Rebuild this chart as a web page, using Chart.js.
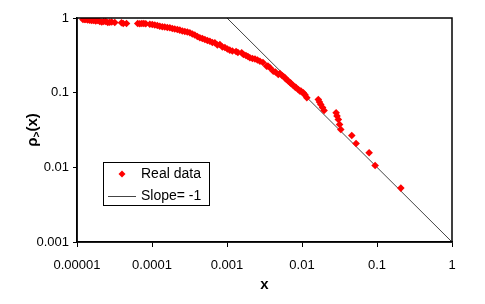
<!DOCTYPE html>
<html>
<head>
<meta charset="utf-8">
<script src="https://cdn.jsdelivr.net/npm/chart.js@4/dist/chart.umd.min.js"></script>
<style>
html,body{margin:0;padding:0;background:#fff;}
#wrap{width:485px;height:304px;position:relative;}
</style>
</head>
<body>
<div id="wrap"><canvas id="c" width="485" height="304"></canvas></div>
<script>
// ---- data ----
const realX = [1.20e-5,1.267e-5,1.31e-5,1.39e-5,1.48e-5,1.571e-5,1.67e-5,1.777e-5,1.89e-5,2.01e-5,
  2.137e-5,2.27e-5,2.417e-5,2.57e-5,2.73e-5,2.906e-5,3.19e-5,3.92e-5,4.139e-5,4.57e-5,
  6.45e-5,6.87e-5,7.31e-5,7.77e-5,8.26e-5,9.35e-5,1.009e-4,1.09e-4,1.177e-4,1.27e-4,
  1.373e-4,1.48e-4,1.601e-4,1.73e-4,1.866e-4,2.01e-4,2.177e-4,2.35e-4,2.539e-4,2.74e-4,
  2.96e-4,3.20e-4,3.451e-4,3.72e-4,4.025e-4,4.35e-4,4.694e-4,5.07e-4,5.473e-4,5.91e-4,
  6.383e-4,6.89e-4,7.443e-4,8.04e-4,8.68e-4,9.37e-4,1.012e-3,1.09e-3,1.18e-3,1.32e-3,
  1.398e-3,1.57e-3,1.656e-3,1.79e-3,1.901e-3,2.02e-3,2.183e-3,2.36e-3,2.546e-3,2.75e-3,
  3.015e-3,3.38e-3,3.516e-3,3.74e-3,4.14e-3,4.43e-3,4.83e-3,5.08e-3,5.41e-3,5.66e-3,
  5.93e-3,6.21e-3,6.56e-3,6.92e-3,7.13e-3,7.66e-3,8.06e-3,8.32e-3,8.93e-3,9.40e-3,
  9.70e-3,1.04e-2,1.08e-2,1.10e-2,1.16e-2,1.65e-2,1.71e-2,1.78e-2,1.88e-2,1.97e-2,
  2.85e-2,2.93e-2,3.05e-2,3.17e-2,3.29e-2,4.61e-2,5.26e-2,7.85e-2,9.44e-2,0.208];
const realY = [0.955,0.955,0.955,0.940,0.935,0.926,0.926,0.912,0.926,0.898,
  0.884,0.898,0.898,0.871,0.879,0.884,0.870,0.863,0.844,0.844,
  0.844,0.836,0.844,0.844,0.836,0.826,0.818,0.806,0.794,0.777,
  0.765,0.758,0.746,0.739,0.724,0.712,0.702,0.687,0.670,0.660,
  0.650,0.634,0.611,0.592,0.565,0.543,0.532,0.515,0.500,0.489,
  0.470,0.466,0.435,0.442,0.409,0.403,0.385,0.371,0.362,0.356,
  0.345,0.342,0.325,0.315,0.305,0.293,0.287,0.283,0.274,0.264,
  0.254,0.226,0.228,0.216,0.194,0.189,0.175,0.181,0.170,0.165,
  0.158,0.150,0.143,0.137,0.133,0.125,0.119,0.117,0.110,0.105,
  0.105,0.0997,0.0946,0.0932,0.0855,0.0811,0.0751,0.0695,0.0634,0.0578,
  0.0538,0.0488,0.0438,0.0375,0.0321,0.0267,0.0209,0.0157,0.0106,0.00527];
const slopeX = [0.001, 1];
const slopeY = [1, 0.001];
const xTickValues = [0.00001,0.0001,0.001,0.01,0.1,1];
const xTickLabels = ['0.00001','0.0001','0.001','0.01','0.1','1'];
const yTickValues = [0.001,0.01,0.1,1];
const yTickLabels = ['0.001','0.01','0.1','1'];
const seriesNames = ['Real data','Slope= -1'];
const xTitle = 'x';

const FONT = "Arial, 'Liberation Sans', sans-serif";

const framePlugin = {
  id:'frame',
  afterDraw(chart){
    const {ctx, chartArea:a} = chart;
    ctx.save();
    ctx.strokeStyle='#000';
    ctx.lineWidth=1.5;
    ctx.strokeRect(a.left, a.top, a.right-a.left, a.bottom-a.top);
    // y axis title: rho with subscript ">" then "(x)"
    ctx.translate(33, (a.top+a.bottom)/2);
    ctx.rotate(-Math.PI/2);
    ctx.fillStyle='#000';
    ctx.textBaseline='middle';
    const f1 = "bold 15px " + FONT, f2 = "bold 10px " + FONT;
    ctx.font=f1; const w1=ctx.measureText('ρ').width; const w3=ctx.measureText('(x)').width;
    ctx.font=f2; const w2=ctx.measureText('>').width;
    let x0 = -(w1+w2+w3)/2;
    ctx.font=f1; ctx.textAlign='left'; ctx.fillText('ρ', x0, 0);
    ctx.font=f2; ctx.fillText('>', x0+w1, 4);
    ctx.font=f1; ctx.fillText('(x)', x0+w1+w2, 0);
    ctx.restore();

    // legend box
    ctx.save();
    const lx=103, ly=162, lw=106, lh=43;
    ctx.fillStyle='#fff';
    ctx.fillRect(lx,ly,lw,lh);
    ctx.strokeStyle='#000'; ctx.lineWidth=1;
    ctx.strokeRect(lx+0.5,ly+0.5,lw,lh);
    const ds = chart.data.datasets;
    const r1y = 174, r2y = 196;
    ctx.fillStyle = ds[0].backgroundColor;
    ctx.beginPath();
    ctx.moveTo(122, r1y-3.5); ctx.lineTo(125.5, r1y); ctx.lineTo(122, r1y+3.5); ctx.lineTo(118.5, r1y); ctx.closePath();
    ctx.fill();
    ctx.strokeStyle = ds[1].borderColor; ctx.lineWidth=1;
    ctx.beginPath(); ctx.moveTo(108, r2y+0.5); ctx.lineTo(136, r2y+0.5); ctx.stroke();
    ctx.fillStyle='#000'; ctx.font = "14px " + FONT; ctx.textBaseline='middle'; ctx.textAlign='left';
    ctx.fillText(ds[0].label, 141, r1y);
    ctx.fillText(ds[1].label, 141, r2y);
    ctx.restore();
  }
};

new Chart(document.getElementById('c'), {
  type:'scatter',
  data:{
    datasets:[
      {label:seriesNames[0], data: realX.map((x,i)=>({x, y:realY[i]})),
       pointStyle:'rectRot', pointRadius:3.8, backgroundColor:'#ff0000', borderColor:'#ff0000', borderWidth:0, showLine:false},
      {label:seriesNames[1], data: slopeX.map((x,i)=>({x, y:slopeY[i]})),
       showLine:true, pointRadius:0, borderColor:'#444', borderWidth:1, backgroundColor:'#444'}
    ]
  },
  options:{
    responsive:false, animation:false, devicePixelRatio:1,
    layout:{padding:{top:18, right:33, left:0, bottom:0}},
    plugins:{legend:{display:false}, tooltip:{enabled:false}},
    scales:{
      x:{type:'logarithmic', min:0.00001, max:1,
        afterBuildTicks(s){ s.ticks = xTickValues.map(v=>({value:v, major:true})); },
        afterFit(s){ s.height = 62; },
        ticks:{callback:(v,i)=>xTickLabels[i], color:'#000', font:{family:FONT, size:13}, padding:11, maxRotation:0, autoSkip:false},
        grid:{drawOnChartArea:false, drawTicks:true, tickLength:5, color:'#000', lineWidth:1},
        border:{color:'#000', width:1.5},
        title:{display:true, text:xTitle, color:'#000', font:{family:FONT, size:15, weight:'bold'}, padding:{top:0,bottom:10}}
      },
      y:{type:'logarithmic', min:0.001, max:1,
        afterBuildTicks(s){ s.ticks = yTickValues.map(v=>({value:v, major:true})); },
        afterFit(s){ s.width = 77; },
        ticks:{callback:(v,i)=>yTickLabels[i], color:'#000', font:{family:FONT, size:13}, padding:4, autoSkip:false},
        grid:{drawOnChartArea:false, drawTicks:true, tickLength:4, color:'#000', lineWidth:1},
        border:{color:'#000', width:1.5}
      }
    }
  },
  plugins:[framePlugin]
});
</script>
</body>
</html>
